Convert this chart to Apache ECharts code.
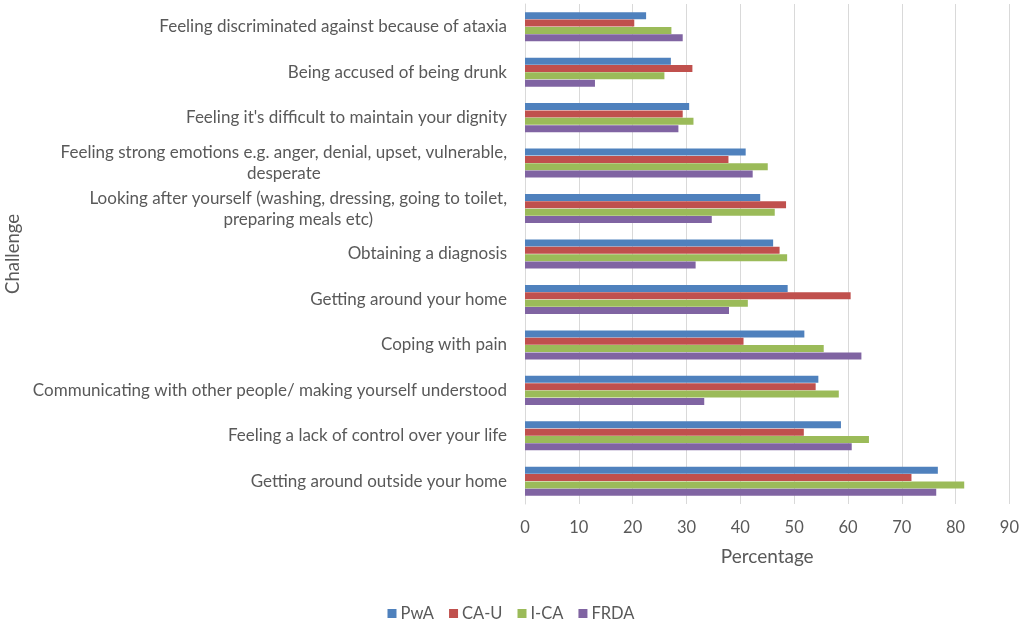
<!DOCTYPE html>
<html>
<head>
<meta charset="utf-8">
<script src="https://cdn.jsdelivr.net/npm/echarts@6/dist/echarts.min.js"></script>
<style>
  html, body { margin: 0; padding: 0; background: #fff; }
  #chart { width: 1022px; height: 619px; }
</style>
</head>
<body>
<div id="chart"></div>
<script>
// Challenges, listed top to bottom
const categories = [
  'Feeling discriminated against because of ataxia',
  'Being accused of being drunk',
  "Feeling it's difficult to maintain your dignity",
  'Feeling strong emotions e.g. anger, denial, upset, vulnerable,\ndesperate',
  'Looking after yourself (washing, dressing, going to toilet,\npreparing meals etc)',
  'Obtaining a diagnosis',
  'Getting around your home',
  'Coping with pain',
  'Communicating with other people/ making yourself understood',
  'Feeling a lack of control over your life',
  'Getting around outside your home'
];

const seriesNames = ['PwA', 'CA-U', 'I-CA', 'FRDA'];

// Percentage of respondents per group, same order as categories
const pwa  = [22.5, 27.1, 30.5, 41.0, 43.7, 46.1, 48.8, 51.9, 54.5, 58.7, 76.7];
const caU  = [20.3, 31.1, 29.3, 37.8, 48.5, 47.3, 60.5, 40.6, 54.0, 51.8, 71.8];
const iCa  = [27.2, 25.9, 31.3, 45.1, 46.4, 48.7, 41.4, 55.5, 58.3, 63.9, 81.6];
const frda = [29.3, 13.0, 28.5, 42.3, 34.7, 31.7, 37.9, 62.5, 33.3, 60.7, 76.4];

const xTicks = [0, 10, 20, 30, 40, 50, 60, 70, 80, 90];

const colors = ['#4F81BD', '#C0504D', '#9BBB59', '#8064A2'];
const FONT = 'Lato';
const TEXT = '#595959';

const chart = echarts.init(document.getElementById('chart'));

const values = [pwa, caU, iCa, frda];

chart.setOption({
  animation: false,
  color: colors,
  textStyle: { fontFamily: FONT, color: TEXT },
  grid: { left: 525, right: 10, top: 4, bottom: 115, containLabel: false },
  legend: {
    data: seriesNames,
    top: 600,
    left: 'center',
    icon: 'rect',
    itemWidth: 9,
    itemHeight: 9,
    itemGap: 15,
    textStyle: { fontFamily: FONT, fontSize: 16.5, color: TEXT, padding: [0, 0, 0, -1] }
  },
  xAxis: {
    type: 'value',
    min: xTicks[0],
    max: xTicks[xTicks.length - 1],
    interval: 10,
    name: 'Percentage',
    nameLocation: 'middle',
    nameGap: 43,
    nameTextStyle: { fontFamily: FONT, fontSize: 19, color: TEXT },
    axisLine: { show: false },
    axisTick: { show: false },
    axisLabel: { fontFamily: FONT, fontSize: 16.5, color: TEXT, margin: 15 },
    splitLine: { show: true, lineStyle: { color: '#d9d9d9', width: 1 } }
  },
  yAxis: {
    type: 'category',
    inverse: true,
    data: categories,
    name: 'Challenge',
    nameLocation: 'middle',
    nameGap: 502,
    nameRotate: 90,
    nameTextStyle: { fontFamily: FONT, fontSize: 18.5, color: TEXT },
    axisLine: { show: true, lineStyle: { color: '#d9d9d9' } },
    axisTick: { show: false },
    axisLabel: {
      margin: 18,
      fontFamily: FONT,
      fontSize: 17,
      color: TEXT,
      lineHeight: 21,
      formatter: function (v) {
        return v.split('\n').map(function (l) { return '{c|' + l + '}'; }).join('\n');
      },
      rich: {
        c: { align: 'center', fontFamily: FONT, fontSize: 17, color: TEXT, lineHeight: 21 }
      }
    },
    splitLine: { show: false }
  },
  series: seriesNames.map(function (name, i) {
    return {
      name: name,
      type: 'bar',
      data: values[i],
      barWidth: 7,
      barGap: '5%',
      itemStyle: { color: colors[i] }
    };
  })
});
</script>
</body>
</html>
